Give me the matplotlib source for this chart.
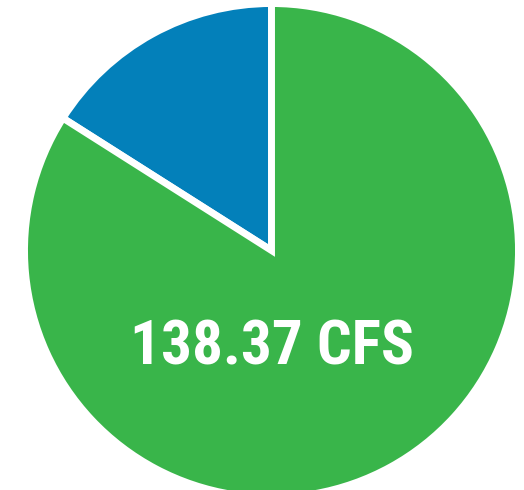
import matplotlib
matplotlib.use("Agg")
import matplotlib.pyplot as plt

# Flow split (share of total)
labels = ["Other", "Remaining"]
shares = [16.0, 84.0]
colors = ["#0380ba", "#39b54a"]
center_label = "138.37 CFS"

# figure is 524x490 px; pie centre and radius in px
W, H, dpi = 524, 490, 100
cx, cy, r = 271.5, 250.5, 247

fig = plt.figure(figsize=(W / dpi, H / dpi), dpi=dpi)
ax = fig.add_axes([0, 0, 1, 1])
ax.pie(shares, colors=colors, startangle=90, counterclock=True,
       wedgeprops=dict(edgecolor="white", linewidth=5))
ax.set_xlim(-cx / r, (W - cx) / r)
ax.set_ylim((cy - H) / r, cy / r)
ax.set_aspect("equal")
ax.axis("off")

ax.text(0.0, -(347 - cy) / r, center_label, color="white", fontsize=44,
        fontweight="bold", family=["Roboto Condensed", "DejaVu Sans"],
        ha="center", va="center")

fig.savefig("out.png", dpi=dpi)
